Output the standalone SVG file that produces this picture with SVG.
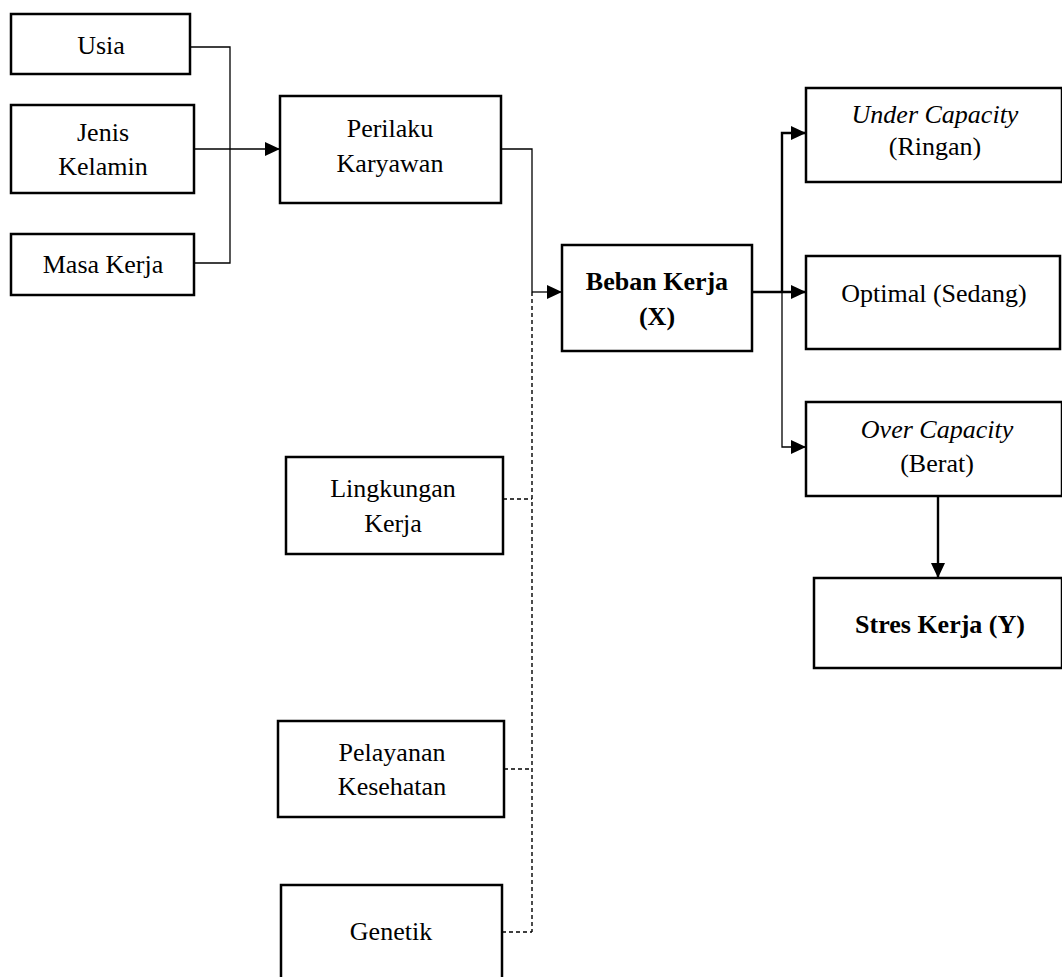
<svg xmlns="http://www.w3.org/2000/svg" width="1062" height="977" viewBox="0 0 1062 977">
<style>
.box{fill:#fff;stroke:#000;stroke-width:2.5}
.t{font-family:"Liberation Serif","Times New Roman",serif;font-size:26px;fill:#000;text-anchor:middle}
.b{font-weight:bold}
.i{font-style:italic}
.thin{fill:none;stroke:#000;stroke-width:1.3}
.thick{fill:none;stroke:#000;stroke-width:2.4}
.dash{fill:none;stroke:#000;stroke-width:1.4;stroke-dasharray:4 3}
</style>
<defs>
<marker id="ah" markerUnits="userSpaceOnUse" markerWidth="16" markerHeight="16" viewBox="0 0 16 16" refX="15" refY="8" orient="auto">
<path d="M0,1 L15,8 L0,15 Z" fill="#000"/>
</marker>
</defs>
<rect width="1062" height="977" fill="#fff"/>
<g id="connectors">
<path class="thin" d="M190,47 H230 V263 H194"/>
<path class="thin" d="M194,149 H280" marker-end="url(#ah)"/>
<path class="thin" d="M501,149 H532 V292"/>
<path class="thin" d="M532,292 H562" marker-end="url(#ah)"/>
<path class="dash" d="M532,292 V932"/>
<path class="dash" d="M503,499 H532"/>
<path class="dash" d="M504,769 H532"/>
<path class="dash" d="M502,932 H532"/>
<path class="thick" d="M752,292 H806" marker-end="url(#ah)"/>
<path class="thick" d="M782,292 V133 H806" marker-end="url(#ah)"/>
<path class="thin" d="M782,292 V447 H806" marker-end="url(#ah)"/>
<path class="thick" d="M938,496 V578" marker-end="url(#ah)"/>
</g>
<g id="usia"><rect class="box" x="11" y="14" width="179" height="60"/><text class="t" x="101" y="54">Usia</text></g>
<g id="jenis"><rect class="box" x="11" y="105" width="183" height="88"/><text class="t" x="103" y="141">Jenis</text><text class="t" x="103" y="175">Kelamin</text></g>
<g id="masa"><rect class="box" x="11" y="234" width="183" height="61"/><text class="t" x="103" y="273">Masa Kerja</text></g>
<g id="perilaku"><rect class="box" x="280" y="96" width="221" height="107"/><text class="t" x="390" y="137">Perilaku</text><text class="t" x="390" y="172">Karyawan</text></g>
<g id="beban"><rect class="box" x="562" y="245" width="190" height="106"/><text class="t b" x="657" y="290">Beban Kerja</text><text class="t b" x="657" y="325">(X)</text></g>
<g id="under"><rect class="box" x="806" y="88" width="256" height="94"/><text class="t i" x="935" y="123">Under Capacity</text><text class="t" x="935" y="155">(Ringan)</text></g>
<g id="optimal"><rect class="box" x="806" y="256" width="254" height="93"/><text class="t" x="934" y="302">Optimal (Sedang)</text></g>
<g id="over"><rect class="box" x="806" y="402" width="256" height="94"/><text class="t i" x="937" y="438">Over Capacity</text><text class="t" x="937" y="472">(Berat)</text></g>
<g id="stres"><rect class="box" x="814" y="578" width="248" height="90"/><text class="t b" x="940" y="633">Stres Kerja (Y)</text></g>
<g id="lingkungan"><rect class="box" x="286" y="457" width="217" height="97"/><text class="t" x="393" y="497">Lingkungan</text><text class="t" x="393" y="532">Kerja</text></g>
<g id="pelayanan"><rect class="box" x="278" y="721" width="226" height="96"/><text class="t" x="392" y="761">Pelayanan</text><text class="t" x="392" y="795">Kesehatan</text></g>
<g id="genetik"><rect class="box" x="281" y="885" width="221" height="100"/><text class="t" x="391" y="940">Genetik</text></g>
</svg>
